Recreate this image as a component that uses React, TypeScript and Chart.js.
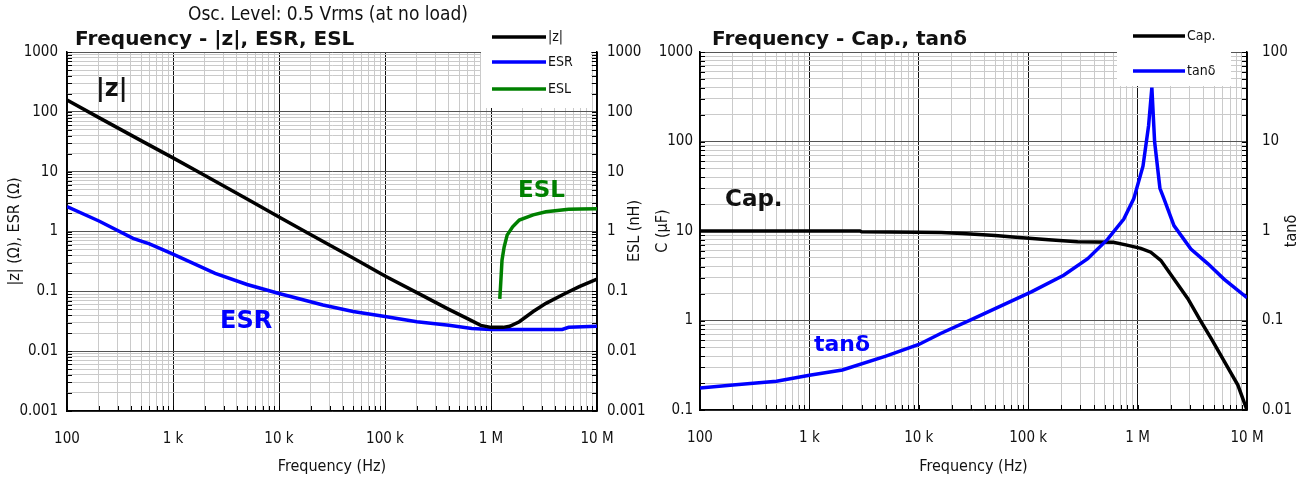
import React, { useEffect, useRef } from 'react';
import { Chart, registerables } from 'chart.js';

Chart.register(...registerables);

const FONT = "'DejaVu Sans Condensed', 'DejaVu Sans', sans-serif";
const FONT_WIDE = "'DejaVu Sans', Verdana, sans-serif";

// ---------- tick labels ----------
const freqDecades = [1e2, 1e3, 1e4, 1e5, 1e6, 1e7];
const freqTickLabels = ['100', '1 k', '10 k', '100 k', '1 M', '10 M'];
const impDecades = [0.001, 0.01, 0.1, 1, 10, 100, 1000];
const impTickLabels = ['0.001', '0.01', '0.1', '1', '10', '100', '1000'];
const capDecades = [0.1, 1, 10, 100, 1000];
const capTickLabels = ['0.1', '1', '10', '100', '1000'];
const tanDecades = [0.01, 0.1, 1, 10, 100];
const tanTickLabels = ['0.01', '0.1', '1', '10', '100'];

// ---------- left panel: |z|, ESR, ESL ----------
const zFreq = [100, 200, 500, 1e3, 2e3, 5e3, 1e4, 2e4, 5e4, 1e5, 2e5, 4e5, 6e5, 8e5, 1e6, 1.3e6, 1.5e6, 1.85e6, 2.5e6, 3.3e6, 5e6, 6.8e6, 1e7];
const zValues = [157, 80, 33, 17, 8.6, 3.5, 1.75, 0.88, 0.36, 0.18, 0.095, 0.05, 0.035, 0.027, 0.025, 0.025, 0.026, 0.031, 0.046, 0.063, 0.092, 0.12, 0.16];

const esrFreq = [100, 200, 420, 600, 1e3, 2.5e3, 5e3, 1e4, 2.6e4, 5e4, 1e5, 2e5, 4e5, 6.6e5, 1e6, 2e6, 4.7e6, 5.4e6, 1e7];
const esrValues = [2.6, 1.5, 0.77, 0.62, 0.42, 0.2, 0.13, 0.092, 0.059, 0.046, 0.038, 0.031, 0.027, 0.024, 0.023, 0.023, 0.023, 0.025, 0.026];

const eslFreq = [1.21e6, 1.23e6, 1.27e6, 1.33e6, 1.42e6, 1.6e6, 1.85e6, 2.5e6, 3.3e6, 5.4e6, 7e6, 1e7];
const eslValues = [0.075, 0.12, 0.33, 0.55, 0.87, 1.2, 1.55, 1.9, 2.14, 2.35, 2.38, 2.4];

// ---------- right panel: Cap., tanδ ----------
const capFreq = [100, 1e3, 2.9e3, 3e3, 1e4, 1.6e4, 2.5e4, 5e4, 7.7e4, 1.54e5, 2.83e5, 6e5, 7.8e5, 1.07e6, 1.32e6, 1.63e6, 2.15e6, 2.88e6, 3.8e6, 4.7e6, 6.2e6, 8.25e6, 1e7];
const capValues = [10, 10, 10, 9.8, 9.7, 9.6, 9.4, 8.9, 8.5, 8.0, 7.6, 7.5, 7.0, 6.4, 5.8, 4.7, 2.9, 1.75, 0.97, 0.63, 0.35, 0.19, 0.1];

const tanFreq = [100, 200, 500, 1e3, 2e3, 5e3, 1e4, 1.6e4, 3.16e4, 1.08e5, 2.11e5, 3.5e5, 5.33e5, 7.48e5, 9.23e5, 1.12e6, 1.26e6, 1.35e6, 1.43e6, 1.6e6, 1.74e6, 2.15e6, 3.07e6, 4.4e6, 6.16e6, 1e7];
const tanValues = [0.0176, 0.019, 0.021, 0.0245, 0.028, 0.04, 0.054, 0.072, 0.105, 0.21, 0.32, 0.49, 0.81, 1.36, 2.3, 5.3, 15, 40, 10, 3.0, 2.3, 1.15, 0.63, 0.43, 0.29, 0.18];

// ---------- helpers ----------
const pts = (xs: number[], ys: number[]) => xs.map((x, i) => ({ x, y: ys[i] }));

function logTickValues(decs: number[]) {
  const out: number[] = [];
  for (let i = 0; i < decs.length - 1; i++) {
    for (let k = 1; k < 10; k++) out.push(+(decs[i] * k).toPrecision(6));
  }
  out.push(decs[decs.length - 1]);
  return out;
}
const isDecade = (v: number, decs: number[]) => decs.some((d) => Math.abs(v / d - 1) < 1e-6);
const labelFor = (v: number, decs: number[], labels: string[]) => {
  const i = decs.findIndex((d) => Math.abs(v / d - 1) < 1e-6);
  return i >= 0 ? labels[i] : '';
};

function logAxis(o: any) {
  const { decs, labels, position, size, padding, majorColor, title, titlePad, fit } = o;
  const horizontal = position === 'bottom';
  return {
    type: 'logarithmic',
    position,
    min: decs[0],
    max: decs[decs.length - 1],
    afterBuildTicks: (s: any) => {
      s.ticks = logTickValues(decs).map((v) => ({ value: v }));
    },
    afterFit: (s: any) => {
      if (horizontal) s.height = fit;
      else s.width = fit;
    },
    ticks: {
      autoSkip: false,
      maxRotation: 0,
      minRotation: 0,
      padding,
      color: '#111',
      font: { family: FONT, size },
      callback: (v: any) => labelFor(Number(v), decs, labels),
    },
    grid: o.noGrid
      ? { drawOnChartArea: false, drawTicks: false }
      : {
          drawTicks: false,
          lineWidth: 1,
          color: (c: any) => (c.tick && isDecade(c.tick.value, decs) ? majorColor : '#cacaca'),
        },
    border: { color: '#000', width: 1.5 },
    title: title
      ? { display: true, text: title, color: '#111', font: { family: FONT, size: 16 }, padding: titlePad }
      : { display: false },
  };
}

function drawTicksInward(chart: any) {
  const ctx = chart.ctx;
  const a = chart.chartArea;
  ctx.save();
  ctx.strokeStyle = '#000';
  ctx.lineWidth = 1;
  ['x', 'y', 'y2'].forEach((id) => {
    const s = chart.scales[id];
    if (!s) return;
    s.ticks.forEach((t: any) => {
      const p = Math.round(s.getPixelForValue(t.value)) + 0.5;
      ctx.beginPath();
      if (id === 'x') {
        ctx.moveTo(p, a.bottom);
        ctx.lineTo(p, a.bottom - 5);
      } else if (id === 'y') {
        ctx.moveTo(a.left, p);
        ctx.lineTo(a.left + 5, p);
      } else {
        ctx.moveTo(a.right, p);
        ctx.lineTo(a.right - 5, p);
      }
      ctx.stroke();
    });
  });
  ctx.restore();
}

function drawDecor(chart: any, d: any) {
  const ctx = chart.ctx;
  ctx.save();
  // legend box
  ctx.fillStyle = '#fff';
  ctx.fillRect(d.box[0], d.box[1], d.box[2], d.box[3]);
  d.legend.forEach((it: any) => {
    const ds = chart.data.datasets[it.index];
    ctx.strokeStyle = ds.borderColor;
    ctx.lineWidth = 3.5;
    ctx.beginPath();
    ctx.moveTo(d.lineX[0], it.y);
    ctx.lineTo(d.lineX[1], it.y);
    ctx.stroke();
    ctx.fillStyle = '#111';
    ctx.font = `14px ${FONT}`;
    ctx.textAlign = 'left';
    ctx.textBaseline = 'middle';
    ctx.fillText(ds.label, d.lineX[1] + 2, it.y);
  });
  // texts
  d.texts.forEach((t: any) => {
    ctx.fillStyle = t.color || '#111';
    ctx.font = `${t.bold ? 'bold ' : ''}${t.size}px ${t.wide ? FONT_WIDE : FONT}`;
    ctx.textAlign = t.align || 'left';
    ctx.textBaseline = 'alphabetic';
    ctx.fillText(t.text, t.x, t.y);
  });
  // rotated right-axis title
  if (d.rightTitle) {
    const r = d.rightTitle;
    ctx.save();
    ctx.translate(r.x, r.y);
    ctx.rotate(-Math.PI / 2);
    ctx.fillStyle = '#111';
    ctx.font = `16px ${FONT}`;
    ctx.textAlign = 'center';
    ctx.textBaseline = 'middle';
    ctx.fillText(r.text, 0, 0);
    ctx.restore();
  }
  ctx.restore();
}

const LEFT_DECOR = {
  box: [481, 24, 110, 84],
  lineX: [492, 546],
  legend: [
    { index: 0, y: 37 },
    { index: 1, y: 62 },
    { index: 2, y: 89 },
  ],
  texts: [
    { text: 'Osc. Level: 0.5 Vrms (at no load)', x: 328, y: 20, size: 19, align: 'center' },
    { text: 'Frequency - |z|, ESR, ESL', x: 75, y: 45, size: 20, bold: true, wide: true },
    { text: '|z|', x: 96, y: 96, size: 24, bold: true, wide: true },
    { text: 'ESR', x: 220, y: 328, size: 24, bold: true, wide: true, color: '#0000ff' },
    { text: 'ESL', x: 518, y: 197, size: 23, bold: true, wide: true, color: '#008000' },
  ],
  rightTitle: { text: 'ESL (nH)', x: 635, y: 231 },
};

const RIGHT_DECOR = {
  box: [467, 22, 114, 64],
  lineX: [483, 535],
  legend: [
    { index: 1, y: 36 },
    { index: 0, y: 71 },
  ],
  texts: [
    { text: 'Frequency - Cap., tanδ', x: 62, y: 45, size: 20, bold: true, wide: true },
    { text: 'Cap.', x: 75, y: 206, size: 23, bold: true, wide: true },
    { text: 'tanδ', x: 164, y: 351, size: 22, bold: true, wide: true, color: '#0000ff' },
  ],
  rightTitle: { text: 'tanδ', x: 642, y: 231 },
};

function makeDecorPlugin(d: any) {
  return {
    id: 'decor',
    beforeDatasetsDraw: (chart: any) => drawTicksInward(chart),
    afterDraw: (chart: any) => drawDecor(chart, d),
  };
}

const baseOptions = {
  responsive: false,
  maintainAspectRatio: false,
  animation: false,
  devicePixelRatio: 1,
  layout: { padding: { top: 52, left: 0, right: 0, bottom: 0 } },
  plugins: { legend: { display: false }, tooltip: { enabled: false }, title: { display: false } },
  elements: { point: { radius: 0 }, line: { tension: 0, borderWidth: 3.5 } },
};

function LeftChart() {
  const ref = useRef<HTMLCanvasElement>(null);
  useEffect(() => {
    const chart = new Chart(ref.current as HTMLCanvasElement, {
      type: 'line',
      data: {
        datasets: [
          { label: '|z|', data: pts(zFreq, zValues), borderColor: '#000000', yAxisID: 'y' },
          { label: 'ESR', data: pts(esrFreq, esrValues), borderColor: '#0000ff', yAxisID: 'y' },
          { label: 'ESL', data: pts(eslFreq, eslValues), borderColor: '#008000', yAxisID: 'y2' },
        ],
      },
      options: {
        ...baseOptions,
        scales: {
          x: logAxis({ decs: freqDecades, labels: freqTickLabels, position: 'bottom', size: 15, padding: 19, majorColor: '#111', title: 'Frequency (Hz)', titlePad: { top: 0, bottom: 4 }, fit: 69 }),
          y: logAxis({ decs: impDecades, labels: impTickLabels, position: 'left', size: 15, padding: 9, majorColor: '#555', title: '|z| (Ω), ESR (Ω)', titlePad: { top: 5, bottom: 0 }, fit: 67 }),
          y2: logAxis({ decs: impDecades, labels: impTickLabels, position: 'right', size: 15, padding: 10, majorColor: '#555', noGrid: true, fit: 53 }),
        },
      } as any,
      plugins: [makeDecorPlugin(LEFT_DECOR)],
    });
    return () => chart.destroy();
  }, []);
  return <canvas ref={ref} width={650} height={480} style={{ position: 'absolute', left: 0, top: 0, width: 650, height: 480 }} />;
}

function RightChart() {
  const ref = useRef<HTMLCanvasElement>(null);
  useEffect(() => {
    const chart = new Chart(ref.current as HTMLCanvasElement, {
      type: 'line',
      data: {
        datasets: [
          { label: 'tanδ', data: pts(tanFreq, tanValues), borderColor: '#0000ff', yAxisID: 'y2' },
          { label: 'Cap.', data: pts(capFreq, capValues), borderColor: '#000000', yAxisID: 'y' },
        ],
      },
      options: {
        ...baseOptions,
        scales: {
          x: logAxis({ decs: freqDecades, labels: freqTickLabels, position: 'bottom', size: 15, padding: 19, majorColor: '#111', title: 'Frequency (Hz)', titlePad: { top: 0, bottom: 4 }, fit: 70 }),
          y: logAxis({ decs: capDecades, labels: capTickLabels, position: 'left', size: 15, padding: 7, majorColor: '#555', title: 'C (μF)', titlePad: { top: 3, bottom: 0 }, fit: 50 }),
          y2: logAxis({ decs: tanDecades, labels: tanTickLabels, position: 'right', size: 15, padding: 15, majorColor: '#555', noGrid: true, fit: 59 }),
        },
      } as any,
      plugins: [makeDecorPlugin(RIGHT_DECOR)],
    });
    return () => chart.destroy();
  }, []);
  return <canvas ref={ref} width={656} height={480} style={{ position: 'absolute', left: 650, top: 0, width: 656, height: 480 }} />;
}

export default function App() {
  return (
    <div style={{ position: 'fixed', left: 0, top: 0, width: 1306, height: 480, background: '#fff' }}>
      <LeftChart />
      <RightChart />
    </div>
  );
}
